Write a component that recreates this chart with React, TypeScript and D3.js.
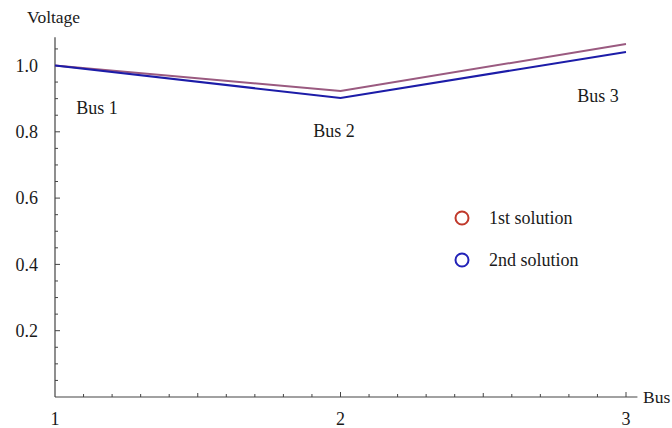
import { useEffect, useRef } from "react";
import * as d3 from "d3";

const buses = [1, 2, 3];
const busLabels = ["Bus 1", "Bus 2", "Bus 3"];
const firstSolution = [1.0, 0.923, 1.065];
const secondSolution = [1.0, 0.902, 1.041];
const yTickValues = [0.2, 0.4, 0.6, 0.8, 1.0];
const xTickValues = [1, 2, 3];
const legendItems = ["1st solution", "2nd solution"];

const W = 672;
const H = 428;
const FONT = "Liberation Serif";
const TEXT = "#1a1a1a";

export default function App() {
  const svgRef = useRef<SVGSVGElement | null>(null);

  useEffect(() => {
    if (!svgRef.current) return;
    const svg = d3.select(svgRef.current);
    svg.selectAll("*").remove();

    const x = d3.scaleLinear().domain([1, 3]).range([55, 626]);
    const y = d3.scaleLinear().domain([0, 1]).range([397, 65.5]);
    const axisColor = "#444";

    const g = svg.append("g");

    // y axis line + ticks (pointing into the plot)
    g.append("line")
      .attr("x1", x(1)).attr("x2", x(1))
      .attr("y1", y(0)).attr("y2", y(1.085))
      .attr("stroke", axisColor).attr("stroke-width", 1.2);

    const yMinor = d3.range(0.05, 1.08, 0.05).map((v) => +v.toFixed(2));
    g.selectAll("line.ymin")
      .data(yMinor)
      .enter()
      .append("line")
      .attr("x1", x(1))
      .attr("x2", (d) => x(1) + (Math.abs(d * 5 - Math.round(d * 5)) < 1e-6 ? 5 : 3))
      .attr("y1", (d) => y(d))
      .attr("y2", (d) => y(d))
      .attr("stroke", axisColor)
      .attr("stroke-width", 1);

    g.selectAll("text.ylab")
      .data(yTickValues)
      .enter()
      .append("text")
      .attr("x", 38)
      .attr("y", (d) => y(d))
      .attr("dy", "0.35em")
      .attr("text-anchor", "end")
      .attr("font-family", FONT)
      .attr("font-size", 18)
      .attr("fill", TEXT)
      .text((d) => d3.format(".1f")(d));

    // x axis line + ticks
    g.append("line")
      .attr("x1", x(1)).attr("x2", x(3.04))
      .attr("y1", y(0)).attr("y2", y(0))
      .attr("stroke", axisColor).attr("stroke-width", 1.2);

    const xMinor = d3.range(1.1, 3.05, 0.1).map((v) => +v.toFixed(2));
    g.selectAll("line.xmin")
      .data(xMinor)
      .enter()
      .append("line")
      .attr("x1", (d) => x(d))
      .attr("x2", (d) => x(d))
      .attr("y1", y(0))
      .attr("y2", (d) => {
        const isMajor = Math.abs(d - Math.round(d)) < 1e-6;
        const isHalf = Math.abs(d * 2 - Math.round(d * 2)) < 1e-6;
        return y(0) - (isMajor ? 5 : isHalf ? 4 : 3);
      })
      .attr("stroke", axisColor)
      .attr("stroke-width", 1);

    g.selectAll("text.xlab")
      .data(xTickValues)
      .enter()
      .append("text")
      .attr("x", (d) => x(d))
      .attr("y", 425)
      .attr("text-anchor", "middle")
      .attr("font-family", FONT)
      .attr("font-size", 18)
      .attr("fill", TEXT)
      .text((d) => String(d));

    // axis labels
    g.append("text")
      .attr("x", 27).attr("y", 23)
      .attr("font-family", FONT)
      .attr("font-size", 17.5).attr("fill", TEXT)
      .text("Voltage");
    g.append("text")
      .attr("x", 643).attr("y", y(0)).attr("dy", "0.35em")
      .attr("font-family", FONT)
      .attr("font-size", 17.5).attr("fill", TEXT)
      .text("Bus");

    // lines
    const line = d3
      .line<number>()
      .x((_d, i) => x(buses[i]))
      .y((d) => y(d));

    g.append("path")
      .attr("d", line(firstSolution))
      .attr("fill", "none")
      .attr("stroke", "#9a5a80")
      .attr("stroke-width", 2);
    g.append("path")
      .attr("d", line(secondSolution))
      .attr("fill", "none")
      .attr("stroke", "#1c1ca8")
      .attr("stroke-width", 2);

    // bus labels
    const busLabelPos = [
      { x: 97, y: 108 },
      { x: 334, y: 131 },
      { x: 598, y: 96 },
    ];
    g.selectAll("text.bus")
      .data(busLabels)
      .enter()
      .append("text")
      .attr("x", (_d, i) => busLabelPos[i].x)
      .attr("y", (_d, i) => busLabelPos[i].y)
      .attr("dy", "0.35em")
      .attr("text-anchor", "middle")
      .attr("font-family", FONT)
      .attr("font-size", 18)
      .attr("fill", TEXT)
      .text((d) => d);

    // legend
    const legendColors = ["#c0392b", "#2222b8"];
    const legend = g
      .selectAll("g.legend")
      .data(legendItems)
      .enter()
      .append("g")
      .attr("transform", (_d, i) => `translate(462, ${218 + i * 42})`);
    legend
      .append("circle")
      .attr("r", 6.5)
      .attr("fill", "none")
      .attr("stroke", (_d, i) => legendColors[i])
      .attr("stroke-width", 2);
    legend
      .append("text")
      .attr("x", 27)
      .attr("dy", "0.35em")
      .attr("font-family", FONT)
      .attr("font-size", 18)
      .attr("fill", TEXT)
      .text((d) => d);
  }, []);

  return (
    <svg
      ref={svgRef}
      width={W}
      height={H}
      style={{ position: "absolute", left: 0, top: 0, background: "#fff" }}
    />
  );
}
